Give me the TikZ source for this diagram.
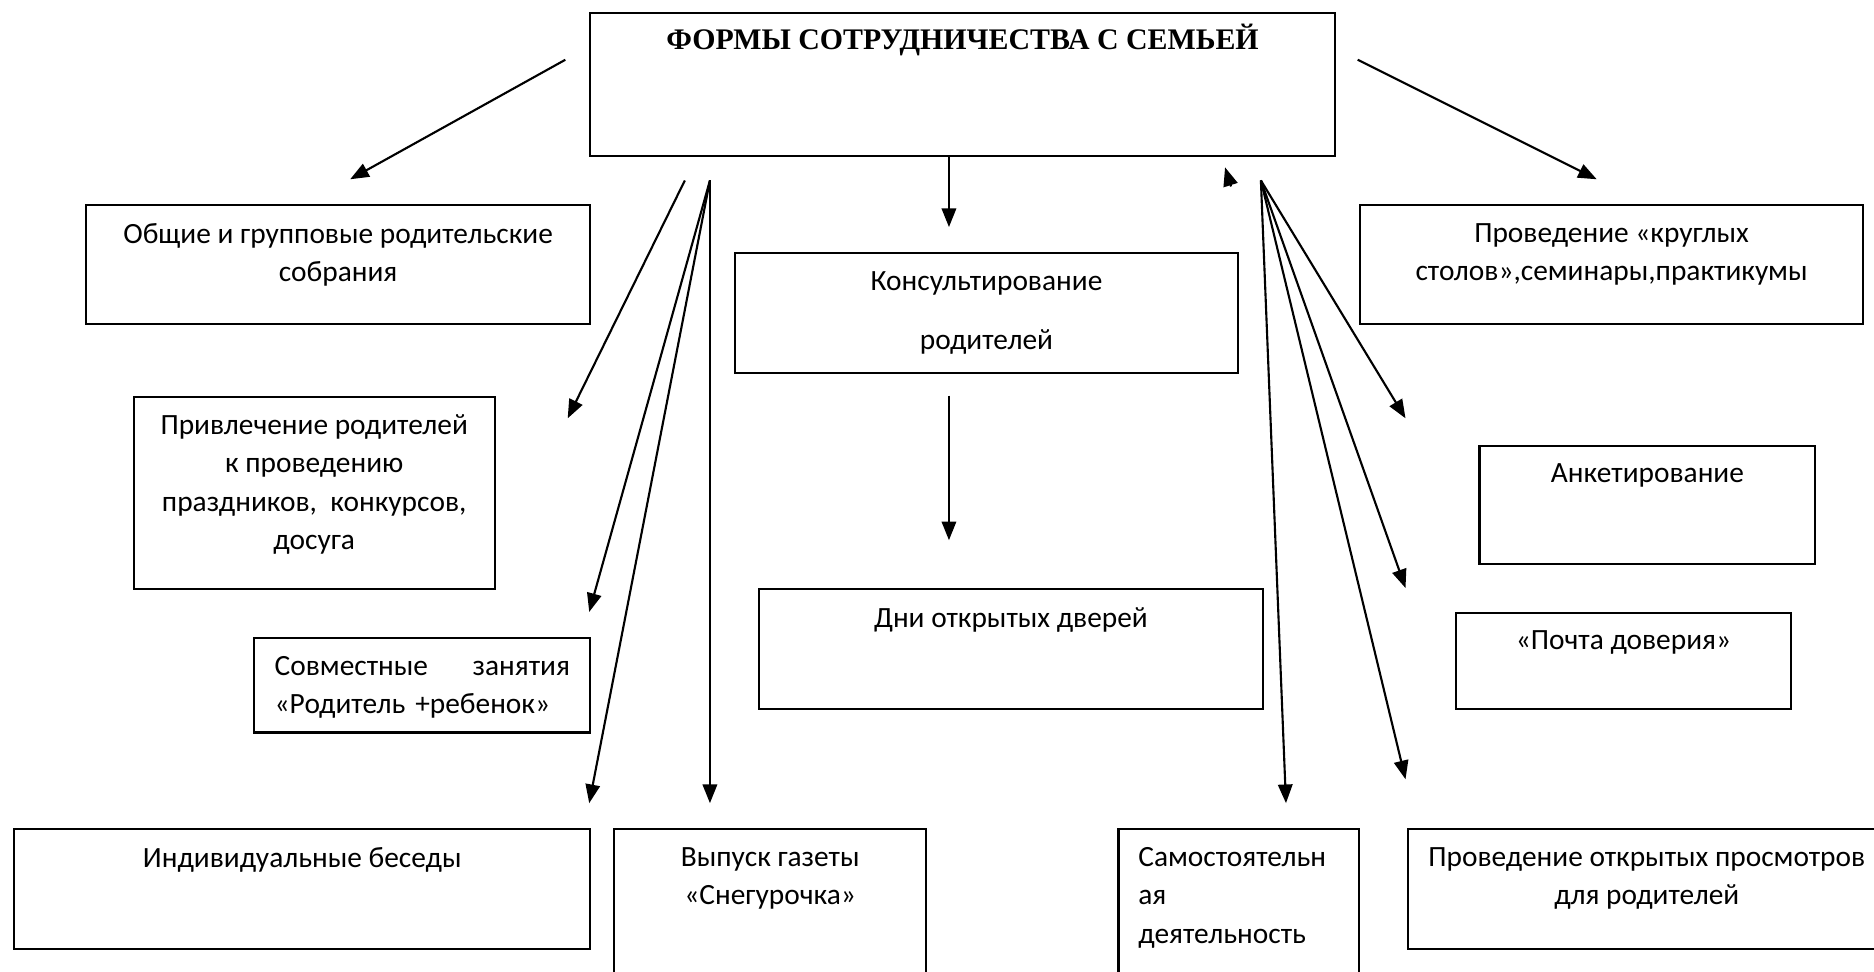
\documentclass[tikz,border=0pt]{standalone}
\usepackage{fontspec}
\setmainfont{Carlito}
\newfontfamily\titlefont{Liberation Serif}
\usetikzlibrary{arrows.meta, positioning}

\tikzset{
    formbox/.style 2 args={draw, line width=0.85pt, anchor=north west, inner sep=0pt,
        minimum width=#1*0.48pt, minimum height=#2*0.48pt},
    formtext/.style={inner sep=0pt, align=center, font=\fontsize{11.8pt}{15.4pt}\selectfont},
    arr/.style={-{Triangle[length=7.5pt, width=5.8pt]}, line width=0.85pt}
}

\begin{document}
\begin{tikzpicture}[x=0.48pt, y=-0.48pt]
        \useasboundingbox (0,0) rectangle (1568,812.5);
        \fill[white] (0,0) rectangle (1568,812.5);
        \clip (0,0) rectangle (1568,812.5);

        % Draw the boxes
        \node[formbox={623}{120}] (title) at (493,10) {};
        \node[formbox={422}{99}] (sobr) at (71,171) {};
        \node[formbox={421}{100}] (kons) at (614,211) {};
        \node[formbox={421}{99}] (krug) at (1137,171) {};
        \node[formbox={302}{161}] (privl) at (111,331) {};
        \node[formbox={281}{99}] (anket) at (1237,372) {};
        \node[formbox={422}{100}] (dni) at (634,492) {};
        \node[formbox={281}{80}] (pochta) at (1217,512) {};
        \node[formbox={281}{79}] (sovm) at (212,533) {};
        \node[formbox={482}{100}] (indiv) at (11,693) {};
        \node[formbox={261}{140}] (gazeta) at (513,693) {};
        \node[formbox={201}{140}] (samost) at (935,693) {};
        \node[formbox={400}{100}] (prosm) at (1177,693) {};

        % Texts of the boxes
        \node[formtext, below=4.5pt of title.north, font=\titlefont\bfseries\fontsize{12pt}{14pt}\selectfont] (titlet) {ФОРМЫ СОТРУДНИЧЕСТВА С СЕМЬЕЙ};
        \node[formtext, below=7.5pt of sobr.north] (sobrt) {Общие и групповые родительские\\собрания};
        \node[formtext, below=7.5pt of kons.north] (konst) {Консультирование\\[8.6pt]родителей};
        \node[formtext, below=7.5pt of krug.north] (krugt) {Проведение «круглых\\столов»,семинары,практикумы};
        \node[formtext, below=7.5pt of privl.north] (privlt) {Привлечение родителей\\к проведению\\праздников,~ конкурсов,\\досуга};
        \node[formtext, below=7.5pt of anket.north] (anko) {Анкетирование};
        \node[formtext, below=7.5pt of dni.north] (dnit) {Дни открытых дверей};
        \node[formtext, below=7.5pt of pochta.north] (pochtat) {«Почта доверия»};
        \node[formtext, below=7.5pt of sovm.north, text width=118.6pt, align=left] (sovmt) {Совместные\hfill занятия\\«Родитель +ребенок»};
        \node[formtext, below=7.5pt of indiv.north] (indivt) {Индивидуальные беседы};
        \node[formtext, below=7.5pt of gazeta.north] (gazetat) {Выпуск газеты\\«Снегурочка»};
        \node[formtext, below right=7.5pt and 8.2pt of samost.north west, align=left] (samostt) {Самостоятельн\\ая\\деятельность};
        \node[formtext, below=7.5pt of prosm.north] (prosmt) {Проведение открытых просмотров\\для родителей};

        % Define the arrow ends
        \coordinate (tL) at (473,50);
        \coordinate (sobrA) at (293,150);
        \coordinate (tR) at (1136,50);
        \coordinate (krugA) at (1336,150);
        \coordinate (tB) at (794,130);
        \coordinate (konsA) at (794,190);
        \coordinate (konsB) at (794,331);
        \coordinate (dniA) at (794,452);
        \coordinate (backS) at (1030,156);
        \coordinate (backA) at (1025,140);
        \coordinate (fanL1) at (573,151);
        \coordinate (fanL2) at (594,151);
        \coordinate (privlA) at (475,350);
        \coordinate (sovmA) at (493,512);
        \coordinate (indivA) at (493,672);
        \coordinate (gazetaA) at (594,672);
        \coordinate (fanR) at (1055,151);
        \coordinate (anketA) at (1176,350);
        \coordinate (pochtaA) at (1176,492);
        \coordinate (prosmA) at (1176,652);
        \coordinate (samostA) at (1076,672);

        % Draw the arrows
        \draw[arr] (tL) -- (sobrA);
        \draw[arr] (tR) -- (krugA);
        \draw[arr] (tB) -- (konsA);
        \draw[arr] (konsB) -- (dniA);
        \draw[arr] (backS) -- (backA);
        \draw[arr] (fanL1) -- (privlA);
        \draw[arr] (fanL2) -- (sovmA);
        \draw[arr] (fanL2) -- (indivA);
        \draw[arr] (fanL2) -- (gazetaA);
        \draw[arr] (fanR) -- (anketA);
        \draw[arr] (fanR) -- (pochtaA);
        \draw[arr] (fanR) -- (prosmA);
        \draw[arr] (fanR) -- (samostA);
    \end{tikzpicture}
\end{document}
